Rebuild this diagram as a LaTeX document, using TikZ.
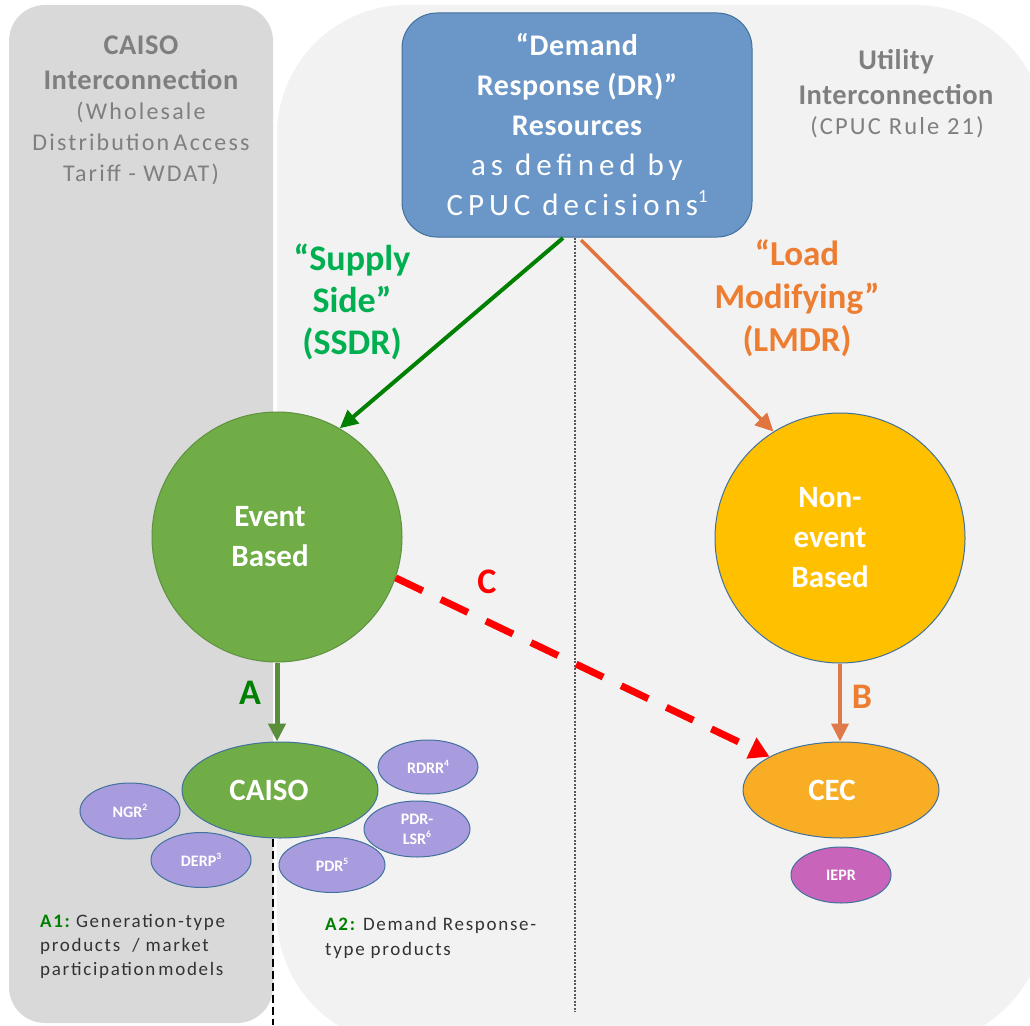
\documentclass[tikz,border=0pt]{standalone}
\usepackage{fontspec}
\usepackage{graphicx}
\setmainfont{Carlito}
\newfontfamily\spc[LetterSpace=16]{Carlito}
\newfontfamily\spcs[LetterSpace=9]{Carlito}
\newfontfamily\spcb[LetterSpace=2]{Carlito}
\usetikzlibrary{shapes.geometric,arrows.meta}
\definecolor{lpanel}{HTML}{D9D9D9}
\definecolor{rpanel}{HTML}{F2F2F2}
\definecolor{drblue}{HTML}{6A96C8}
\definecolor{drborder}{HTML}{41719C}
\definecolor{evgreen}{HTML}{70AD47}
\definecolor{evborder}{HTML}{5E9140}
\definecolor{negold}{HTML}{FFC000}
\definecolor{cecorange}{HTML}{F8AD24}
\definecolor{lav}{HTML}{A99CDE}
\definecolor{ieprpink}{HTML}{C864B9}
\definecolor{txtgray}{HTML}{7F7F7F}
\definecolor{ssgreen}{HTML}{00B050}
\definecolor{dkgreen}{HTML}{008000}
\definecolor{lmorange}{HTML}{ED7D31}
\definecolor{arrorange}{HTML}{E2743F}
\definecolor{agreen}{HTML}{5B8E3B}
\definecolor{borange}{HTML}{E07A4A}
\newcommand{\sups}[1]{\raisebox{0.42em}{\scalebox{0.6}{#1}}}
\begin{document}
\begin{tikzpicture}[x=1pt,y=-1pt,
  lbl/.style={align=center, inner sep=0pt},
  smallell/.style={ellipse, draw=drborder, line width=1pt, fill=lav, inner sep=0pt, text=white, align=center, font=\bfseries\fontsize{16}{20}\selectfont},
  bigell/.style={ellipse, draw=drborder, line width=1pt, minimum width=196pt, minimum height=96pt, inner sep=0pt},
  bigcirc/.style={circle, minimum size=250pt, inner sep=0pt, line width=1pt},
  shapetext/.style={inner sep=0pt, text=white, align=center, font=\bfseries\fontsize{31}{40}\selectfont},
  arr/.style={line width=4pt, -{Triangle[length=18pt,width=17pt]}},
  letterlbl/.style={inner sep=0pt, font=\bfseries\fontsize{36}{36}\selectfont},
]
\useasboundingbox (0,0) rectangle (1030,1025);
\fill[white] (0,0) rectangle (1030,1025);
\begin{scope}
  \clip (0,0) rectangle (1030,1025);
  \fill[rpanel, rounded corners=130pt] (277,5) rectangle (1045,1045);
\end{scope}
\fill[lpanel, rounded corners=36pt] (9,5) rectangle (273,1023);

% side headings
\node[lbl, text=txtgray, font=\spcb\bfseries\fontsize{28.5}{35}\selectfont] (caisohead) at (141,62.5) {CAISO\\Interconnection};
\node[lbl, text=txtgray, font=\spcs\fontsize{24}{31}\selectfont] (caisosub) at (141,143) {(Wholesale\\Distribution\hspace{-3pt} Access\\Tariff - WDAT)};
\node[lbl, text=txtgray, font=\spcb\bfseries\fontsize{28.5}{35}\selectfont] (utilhead) at (896,77.5) {Utility\\Interconnection};
\node[lbl, text=txtgray, font=\spcs\fontsize{24.5}{31}\selectfont] (utilsub) at (897,127) {(CPUC Rule 21)};

% top box
\node[draw=drborder, fill=drblue, rounded corners=35pt, minimum width=350pt, minimum height=224pt, line width=1pt, align=center, text=white, inner sep=0pt, font=\fontsize{28}{40}\selectfont] (dr) at (577,125)
  {{\spcb\bfseries\fontsize{30}{40}\selectfont “Demand}\\{\spcb\bfseries\fontsize{30}{40}\selectfont Response (DR)”}\\{\spcb\bfseries\fontsize{30}{40}\selectfont Resources}\\{\spc\fontsize{31}{40}\selectfont as defined by}\\{\spc\fontsize{31}{40}\selectfont CPUC decisions\sups{1}}};

% branch labels
\node[lbl, text=ssgreen, font=\bfseries\fontsize{36}{42}\selectfont] (sslbl) at (352,302) {“Supply\\Side”\\(SSDR)};
\node[lbl, text=lmorange, font=\bfseries\fontsize{35}{43}\selectfont] (lmlbl) at (797,298) {“Load\\Modifying”\\(LMDR)};

% circles
\node[bigcirc, fill=evgreen, draw=evborder] (ev) at (277,537) {};
\node[bigcirc, fill=negold, draw=drborder] (ne) at (840,538) {};
\node[shapetext] (evtext) at ([xshift=-7pt]ev.center) {Event\\Based};
\node[shapetext] (netext) at ([xshift=-10pt]ne.center) {Non-\\event\\Based};

% small ellipses
\node[smallell, minimum width=100pt, minimum height=56pt] (ngr) at (130,811) {NGR\sups{2}};
\node[smallell, minimum width=100pt, minimum height=55pt] (derp) at (201,860) {DERP\sups{3}};
\node[smallell, minimum width=100pt, minimum height=54pt] (rdrr) at (428,767) {RDRR\sups{4}};
\node[smallell, minimum width=106pt, minimum height=56pt] (pdrlsr) at (417,829) {PDR-\\LSR\sups{6}};
\node[smallell, minimum width=106pt, minimum height=55pt] (pdr) at (332,865) {PDR\sups{5}};
\node[smallell, fill=ieprpink, minimum width=100pt, minimum height=56pt] (iepr) at (841,875) {IEPR};

% big ellipses
\node[bigell, fill=evgreen] (caiso) at (280,790) {};
\node[bigell, fill=cecorange] (cec) at (841,790) {};
\node[shapetext] (caisotext) at ([xshift=-11pt]caiso.center) {CAISO};
\node[shapetext] (cectext) at ([xshift=-9pt]cec.center) {CEC};

% guide lines
\coordinate (dbot) at (575,1012);
\coordinate (cbot) at (273,1025);
\draw[black!65, line width=1.5pt, dash pattern=on 2pt off 1.5pt] (dr.south -| dbot) -- (dbot);
\draw[black, line width=2.5pt, dash pattern=on 8pt off 4pt] (caiso.south -| cbot) -- (cbot);

% arrows
\coordinate (gs) at (563,238);
\coordinate (os) at (581,240);
\draw[arr, dkgreen] (gs) -- (ev.60);
\draw[arr, arrorange, line width=3.5pt] (os) -- (ne.122);
\draw[arr, agreen, line width=5pt] (ev.south) -- (ev.south |- caiso.north);
\draw[arr, borange] (ne.south) -- (ne.south |- cec.north);
\draw[red, line width=7pt, dash pattern=on 30pt off 20pt, -{Triangle[length=20pt,width=22pt]}] (ev.-19) -- (cec.155);

% letter labels
\node[letterlbl, text=dkgreen] (alabel) at (250,693) {A};
\node[letterlbl, text=lmorange] (blabel) at (862,697) {B};
\node[letterlbl, text=red] (clabel) at (487,582) {C};

% bottom notes
\node[inner sep=0pt, align=left, anchor=west, text=black!80, font=\spcs\fontsize{19}{24}\selectfont] (a1note) at (40,946) {{\bfseries\color{dkgreen}A1:}\hspace{-2pt} Generation-type\\products\ \ / market\\participation\hspace{-3pt} models};
\node[inner sep=0pt, align=left, anchor=west, text=black!80, font=\spcs\fontsize{19}{25}\selectfont] (a2note) at (325,937.5) {{\bfseries\color{dkgreen}A2:} Demand Response-\\type products};
\end{tikzpicture}
\end{document}
